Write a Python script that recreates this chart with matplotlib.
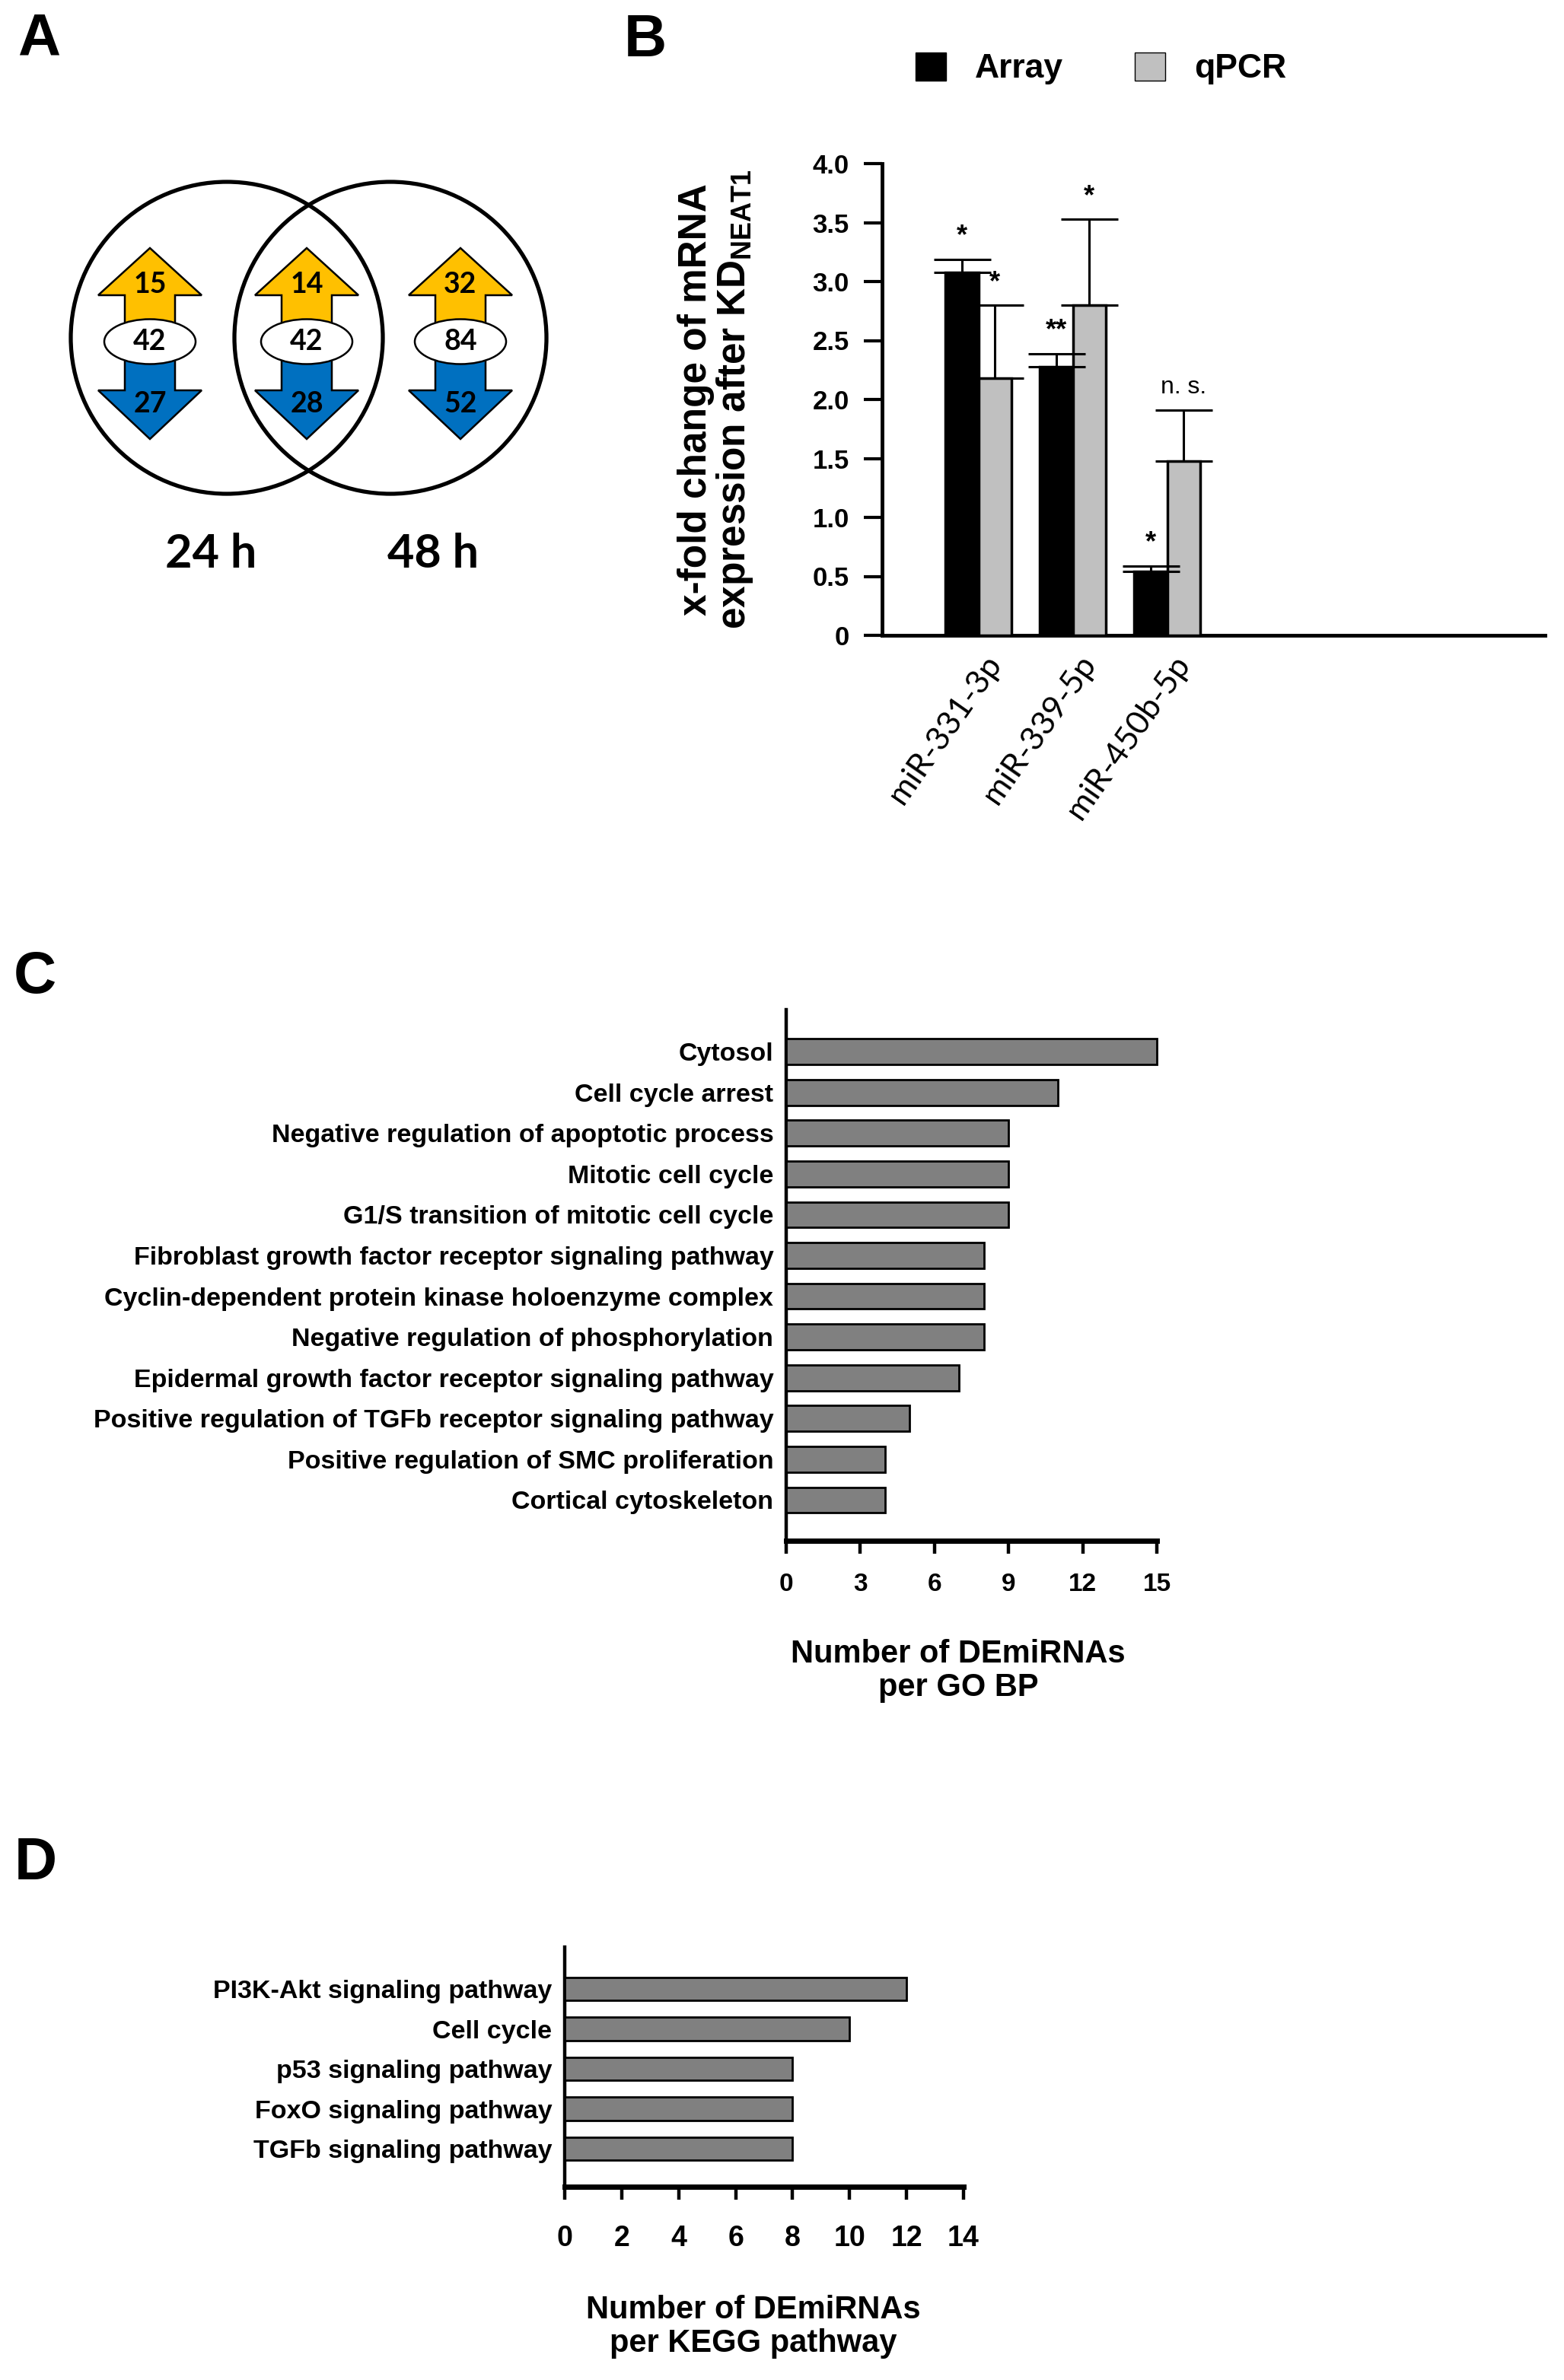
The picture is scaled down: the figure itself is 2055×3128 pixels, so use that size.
import matplotlib
matplotlib.use('Agg')
import matplotlib.pyplot as plt
from matplotlib.patches import Circle, Ellipse, Polygon, Patch
import numpy as np

plt.rcParams['font.family'] = ['Liberation Sans', 'DejaVu Sans']
plt.rcParams['font.weight'] = 'bold'
plt.rcParams['mathtext.fontset'] = 'custom'
plt.rcParams['mathtext.rm'] = 'Liberation Sans:bold'
plt.rcParams['mathtext.default'] = 'rm'

# ---- data ----
# A: venn of DEmiRNAs (up / total / down)
venn_sets = ['24 h', '48 h']
arrow_up = [15, 14, 32]
arrow_total = [42, 42, 84]
arrow_down = [27, 28, 52]

# B: array vs qPCR
mirnas = ['miR-331-3p', 'miR-339-5p', 'miR-450b-5p']
array_vals = [3.08, 2.28, 0.54]
array_err = [0.11, 0.11, 0.05]
qpcr_vals = [2.18, 2.80, 1.48]
qpcr_err = [0.62, 0.73, 0.43]
array_sig = ['*', '**', '*']
qpcr_sig = ['*', '*', 'n. s.']

# C: GO BP
go_terms = ['Cytosol', 'Cell cycle arrest', 'Negative regulation of apoptotic process',
            'Mitotic cell cycle', 'G1/S transition of mitotic cell cycle',
            'Fibroblast growth factor receptor signaling pathway',
            'Cyclin-dependent protein kinase holoenzyme complex',
            'Negative regulation of phosphorylation',
            'Epidermal growth factor receptor signaling pathway',
            'Positive regulation of TGFb receptor signaling pathway',
            'Positive regulation of SMC proliferation', 'Cortical cytoskeleton']
go_counts = [15, 11, 9, 9, 9, 8, 8, 8, 7, 5, 4, 4]

# D: KEGG
kegg_terms = ['PI3K-Akt signaling pathway', 'Cell cycle', 'p53 signaling pathway',
              'FoxO signaling pathway', 'TGFb signaling pathway']
kegg_counts = [12, 10, 8, 8, 8]

W, H = 2055, 3128
fig = plt.figure(figsize=(W / 100, H / 100), dpi=100)

# panel letters
for lab, (px, py) in zip('ABCD', [(51, 52), (848, 54), (46, 1285), (47, 2449)]):
    fig.text(px / W, 1 - py / H, lab, fontsize=56, fontweight='bold', ha='center', va='center')

# ---- A ----
axA = fig.add_axes([0, 1 - 800 / H, 820 / W, 800 / H])
axA.set_xlim(0, 820)
axA.set_ylim(800, 0)
axA.axis('off')
for cx in [298, 513]:
    axA.add_patch(Circle((cx, 444), 205, fill=False, edgecolor='black', linewidth=3.8))

yellow, blue = '#FFC000', '#0070C0'
for cx, up, tot, dn in zip([197, 403, 605], arrow_up, arrow_total, arrow_down):
    up_pts = [(cx, 326), (cx + 68, 388), (cx + 33, 388), (cx + 33, 449),
              (cx - 33, 449), (cx - 33, 388), (cx - 68, 388)]
    dn_pts = [(cx - 33, 449), (cx + 33, 449), (cx + 33, 513), (cx + 68, 513),
              (cx, 577), (cx - 68, 513), (cx - 33, 513)]
    axA.add_patch(Polygon(up_pts, closed=True, facecolor=yellow, edgecolor='black', linewidth=1.8))
    axA.add_patch(Polygon(dn_pts, closed=True, facecolor=blue, edgecolor='black', linewidth=1.8))
    axA.add_patch(Ellipse((cx, 449), 120, 59, facecolor='white', edgecolor='black', linewidth=1.8))
    axA.text(cx, 374, str(up), fontsize=27, fontfamily='Lato', fontweight='bold', ha='center', va='center')
    axA.text(cx, 449, str(tot), fontsize=27, fontfamily='Lato', ha='center', va='center')
    axA.text(cx, 531, str(dn), fontsize=27, fontfamily='Lato', fontweight='bold', ha='center', va='center')

for lab, lx in zip(venn_sets, [277, 569]):
    axA.text(lx, 728, lab, fontsize=44, fontfamily='Lato', fontweight='bold', ha='center', va='center')

# ---- B ----
axB = fig.add_axes([1159 / W, 1 - 835 / H, 871 / W, 620 / H])
x = np.arange(1, len(mirnas) + 1)
bw = 0.35
ekw = dict(ecolor='black', elinewidth=2.2, capsize=27, capthick=2.2)
axB.bar(x - bw / 2, array_vals, bw, color='black', edgecolor='black', linewidth=2.5,
        yerr=[np.zeros(len(x)), array_err], error_kw=ekw, zorder=3)
axB.bar(x + bw / 2, qpcr_vals, bw, color='#C0C0C0', edgecolor='black', linewidth=2.5,
        yerr=[np.zeros(len(x)), qpcr_err], error_kw=ekw, zorder=3)
for xi, v, e, s in zip(x - bw / 2, array_vals, array_err, array_sig):
    axB.text(xi, v + e + 0.13, s, fontsize=26, fontweight='bold', ha='center', va='baseline')
for xi, v, e, s in zip(x + bw / 2, qpcr_vals, qpcr_err, qpcr_sig):
    if s == 'n. s.':
        axB.text(xi, v + e + 0.14, s, fontsize=23, fontweight='normal', ha='center', va='baseline')
    else:
        axB.text(xi, v + e + 0.13, s, fontsize=26, fontweight='bold', ha='center', va='baseline')

axB.set_xlim(-0.02, 7.0)
axB.set_ylim(0, 4)
yt = np.arange(0, 4.01, 0.5)
axB.set_yticks(yt)
axB.set_yticklabels(['0' if v == 0 else f'{v:.1f}' for v in yt], fontsize=25, fontweight='bold')
axB.set_xticks(x + 0.05)
axB.set_xticklabels(mirnas, rotation=55, ha='right', rotation_mode='anchor',
                    fontfamily='Lato', fontweight='normal', fontsize=31)
axB.tick_params(axis='y', length=17, width=3, pad=14)
axB.tick_params(axis='x', length=0, pad=14)
for sp in ['top', 'right']:
    axB.spines[sp].set_visible(False)
for sp in ['left', 'bottom']:
    axB.spines[sp].set_linewidth(3.5)
axB.set_ylabel('x-fold change of mRNA\nexpression after KD$_{NEAT1}$', fontsize=37,
               fontweight='bold', ha='center', va='center', linespacing=1.0)
axB.yaxis.set_label_coords(-0.25, 0.5)

fig.legend(handles=[Patch(facecolor='black', edgecolor='black', label='Array'),
                    Patch(facecolor='#C0C0C0', edgecolor='black', label='qPCR')],
           loc='center left', bbox_to_anchor=(1203 / W, 1 - 90 / H), ncol=2, frameon=False,
           handlelength=0.9, handleheight=0.9, handletextpad=0.86, columnspacing=2.1,
           borderpad=0, borderaxespad=0, prop={'size': 32, 'weight': 'bold'})


def hbar_panel(rect, terms, counts, xmax, step, height):
    ax = fig.add_axes(rect)
    yy = np.arange(len(terms))
    ax.barh(yy, counts, height=height, color='#808080', edgecolor='black',
            linewidth=2, clip_on=False, zorder=3)
    ax.set_xlim(0, xmax)
    ax.set_ylim(len(terms), -1.03)
    ax.set_yticks(yy)
    ax.set_yticklabels(terms, fontsize=24.5, fontweight='bold')
    ax.set_xticks(np.arange(0, xmax + 1, step))
    ax.tick_params(axis='y', length=0, pad=12)
    ax.tick_params(axis='x', length=12, width=3.2, pad=18, labelsize=24)
    for sp in ['top', 'right']:
        ax.spines[sp].set_visible(False)
    ax.spines['left'].set_linewidth(3.2)
    ax.spines['bottom'].set_linewidth(5)
    return ax


axC = hbar_panel([1033 / W, 1 - 2025 / H, 487 / W, 698 / H], go_terms, go_counts, 15, 3, 0.63)
axC.set_xlabel('Number of DEmiRNAs\nper GO BP', fontsize=30, fontweight='bold',
               ha='center', va='center', linespacing=1.15)
axC.xaxis.set_label_coords(0.464, -0.245)

axD = hbar_panel([742 / W, 1 - 2874 / H, 524 / W, 315 / H], kegg_terms, kegg_counts, 14, 2, 0.58)
axD.set_ylim(len(kegg_terms) - 1 + 0.95, -1.05)
axD.tick_params(axis='x', pad=24, labelsize=27)
axD.set_xlabel('Number of DEmiRNAs\nper KEGG pathway', fontsize=30, fontweight='bold',
               ha='center', va='center', linespacing=1.15)
axD.xaxis.set_label_coords(0.473, -0.584)

fig.savefig('out.png', dpi=100, facecolor='white')
